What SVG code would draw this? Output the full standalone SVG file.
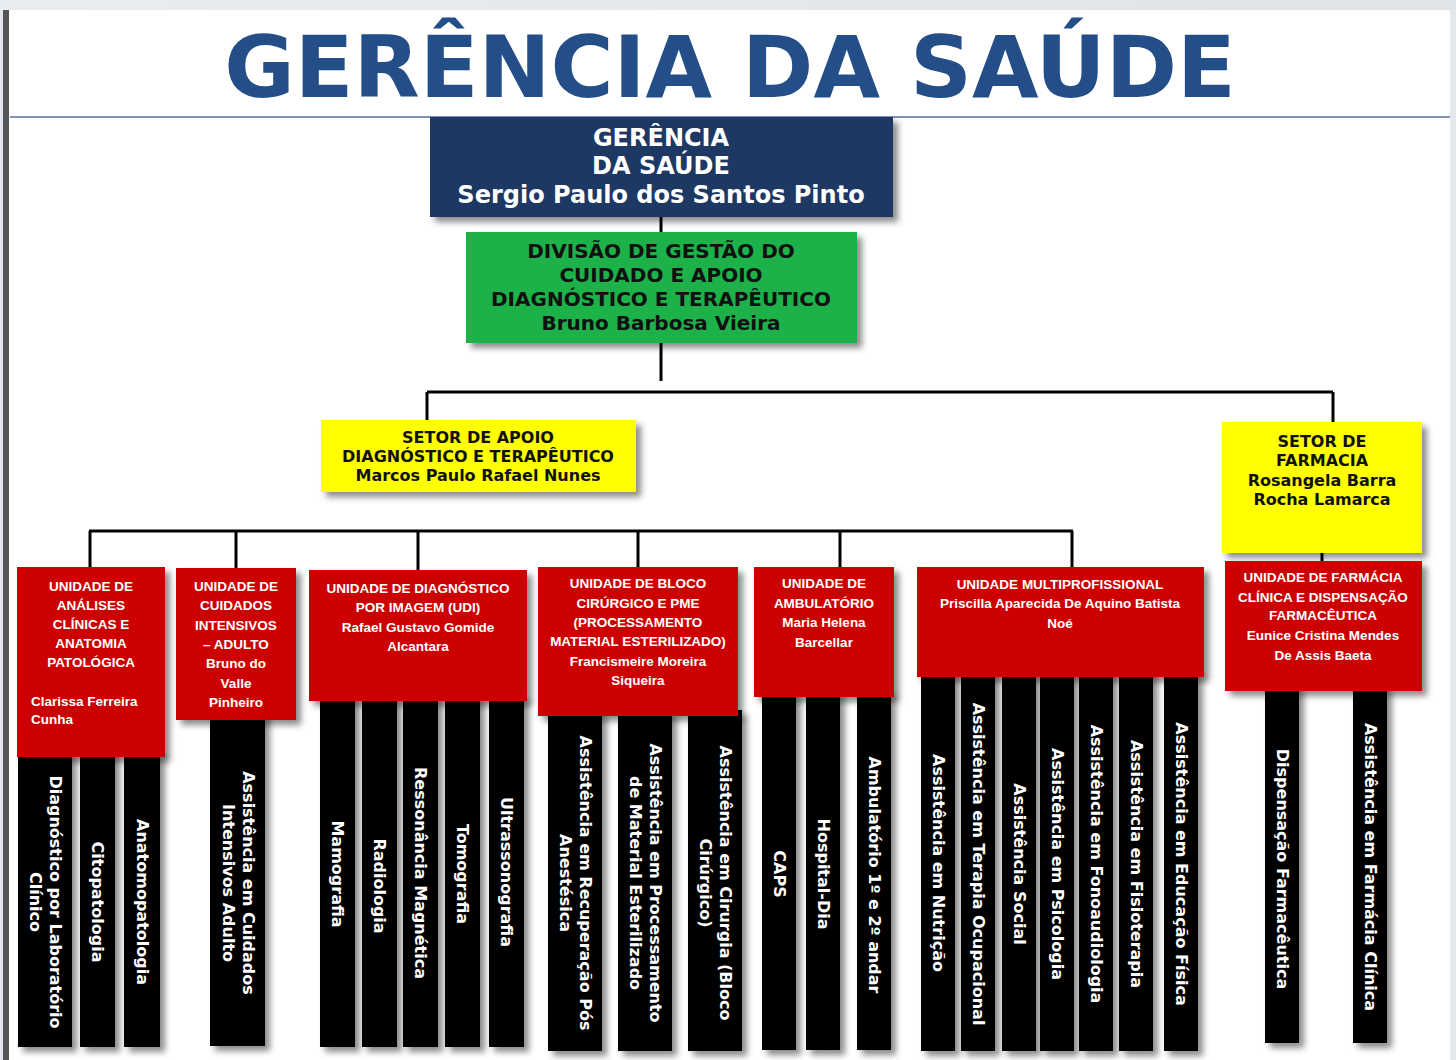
<svg xmlns="http://www.w3.org/2000/svg" width="1456" height="1060" viewBox="0 0 1456 1060">
<defs>
<filter id="sh" x="-20%" y="-20%" width="150%" height="150%">
<feDropShadow dx="5" dy="5" stdDeviation="3" flood-color="#000" flood-opacity="0.45"/>
</filter>
<linearGradient id="topg" x1="0" y1="0" x2="1" y2="0">
<stop offset="0" stop-color="#e9edf0"/><stop offset="1" stop-color="#dfe4e8"/>
</linearGradient>
</defs>
<style>
.dv{font-family:"DejaVu Sans","Liberation Sans",sans-serif;font-weight:bold;text-anchor:middle}
.ls{font-family:"Liberation Sans",Arial,sans-serif;font-weight:bold;text-anchor:middle;font-size:13.5px;fill:#fff}
.red{fill:#cc0000;filter:url(#sh)}
.bar{fill:#000;filter:url(#sh)}
.bt{font-family:"DejaVu Sans","Liberation Sans",sans-serif;font-weight:bold;text-anchor:middle;font-size:16px;fill:#fff}
.ln{stroke:#000;stroke-width:3;fill:none}
</style>
<rect x="0" y="0" width="1456" height="1060" fill="#fff"/>
<rect x="0" y="0" width="1456" height="10" fill="url(#topg)"/>
<rect x="0" y="10" width="3" height="1050" fill="#e4e8ec"/>
<rect x="3" y="10" width="6" height="1050" fill="#555"/>
<rect x="1450" y="10" width="6" height="1050" fill="#e4e8ec"/>
<line x1="10" y1="117" x2="1450" y2="117" stroke="#8194b6" stroke-width="2"/>
<text x="730" y="97" class="dv" font-size="86" fill="#234e88">GERÊNCIA DA SAÚDE</text>

<g id="connectors">
<path class="ln" d="M661 217V232M661 343V381M427 392H1333M427 392V422M1333 392V424"/>
<path class="ln" d="M89 531H1073M90 531V568M236 531V568M418 531V570M638 531V568M840 531V568M1072 531V568M1322 553V562"/>
</g>

<g id="gerencia">
<rect x="430" y="117" width="463" height="100" fill="#1f3864" filter="url(#sh)"/>
<text class="dv" font-size="24" fill="#fff"><tspan x="661" y="146">GERÊNCIA</tspan><tspan x="661" y="174">DA SAÚDE</tspan><tspan x="661" y="203">Sergio Paulo dos Santos Pinto</tspan></text>
</g>

<g id="divisao">
<rect x="466" y="232" width="391" height="111" fill="#1fb24a" filter="url(#sh)"/>
<text class="dv" font-size="20" fill="#111"><tspan x="661" y="258">DIVISÃO DE GESTÃO DO</tspan><tspan x="661" y="282">CUIDADO E APOIO</tspan><tspan x="661" y="306">DIAGNÓSTICO E TERAPÊUTICO</tspan><tspan x="661" y="330">Bruno Barbosa Vieira</tspan></text>
</g>

<g id="setor-apoio">
<rect x="321" y="420" width="315" height="72" fill="#ffff00" filter="url(#sh)"/>
<text class="dv" font-size="16" fill="#111"><tspan x="478" y="443">SETOR DE APOIO</tspan><tspan x="478" y="462">DIAGNÓSTICO E TERAPÊUTICO</tspan><tspan x="478" y="481">Marcos Paulo Rafael Nunes</tspan></text>
</g>

<g id="setor-farmacia">
<rect x="1222" y="422" width="200" height="131" fill="#ffff00" filter="url(#sh)"/>
<text class="dv" font-size="16" fill="#111"><tspan x="1322" y="447">SETOR DE</tspan><tspan x="1322" y="466">FARMACIA</tspan><tspan x="1322" y="486">Rosangela Barra</tspan><tspan x="1322" y="505">Rocha Lamarca</tspan></text>
</g>

<!-- bars -->
<g id="bar-diag-lab"><rect class="bar" x="18" y="750" width="54" height="297"/><text class="bt" transform="translate(45,902) rotate(90)"><tspan x="0" y="-5">Diagnóstico por Laboratório</tspan><tspan x="0" y="15">Clínico</tspan></text></g>
<g id="bar-citopatologia"><rect class="bar" x="80" y="750" width="35" height="297"/><text class="bt" transform="translate(97.5,902) rotate(90)"><tspan x="0" y="5.5">Citopatologia</tspan></text></g>
<g id="bar-anatomopatologia"><rect class="bar" x="124" y="750" width="36" height="297"/><text class="bt" transform="translate(142,902) rotate(90)"><tspan x="0" y="5.5">Anatomopatologia</tspan></text></g>

<g id="bar-uti"><rect class="bar" x="210" y="712" width="55" height="334"/><text class="bt" transform="translate(237.5,883) rotate(90)"><tspan x="0" y="-5">Assistência em Cuidados</tspan><tspan x="0" y="15">Intensivos Adulto</tspan></text></g>

<g id="bar-mamografia"><rect class="bar" x="320" y="695" width="35" height="352"/><text class="bt" transform="translate(337.5,874) rotate(90)"><tspan x="0" y="5.5">Mamografia</tspan></text></g>
<g id="bar-radiologia"><rect class="bar" x="362" y="695" width="35" height="352"/><text class="bt" transform="translate(379.5,886) rotate(90)"><tspan x="0" y="5.5">Radiologia</tspan></text></g>
<g id="bar-ressonancia"><rect class="bar" x="403" y="695" width="35" height="352"/><text class="bt" transform="translate(420.5,873) rotate(90)"><tspan x="0" y="5.5">Ressonância Magnética</tspan></text></g>
<g id="bar-tomografia"><rect class="bar" x="445" y="695" width="35" height="352"/><text class="bt" transform="translate(462.5,874) rotate(90)"><tspan x="0" y="5.5">Tomografia</tspan></text></g>
<g id="bar-ultrassonografia"><rect class="bar" x="489" y="695" width="35" height="352"/><text class="bt" transform="translate(506.5,872) rotate(90)"><tspan x="0" y="5.5">Ultrassonografia</tspan></text></g>

<g id="bar-rpa"><rect class="bar" x="548" y="710" width="54" height="341"/><text class="bt" transform="translate(575,883) rotate(90)"><tspan x="0" y="-5">Assistência em Recuperação Pós</tspan><tspan x="0" y="15">Anestésica</tspan></text></g>
<g id="bar-cme"><rect class="bar" x="618" y="710" width="54" height="341"/><text class="bt" transform="translate(645,883) rotate(90)"><tspan x="0" y="-5">Assistência em Processamento</tspan><tspan x="0" y="15">de Material Esterilizado</tspan></text></g>
<g id="bar-cirurgia"><rect class="bar" x="688" y="710" width="54" height="341"/><text class="bt" transform="translate(715,883) rotate(90)"><tspan x="0" y="-5">Assistência em Cirurgia (Bloco</tspan><tspan x="0" y="15">Cirúrgico)</tspan></text></g>

<g id="bar-caps"><rect class="bar" x="762" y="690" width="34" height="360"/><text class="bt" transform="translate(779,874) rotate(90)"><tspan x="0" y="5.5">CAPS</tspan></text></g>
<g id="bar-hospital-dia"><rect class="bar" x="806" y="690" width="34" height="360"/><text class="bt" transform="translate(823,874) rotate(90)"><tspan x="0" y="5.5">Hospital-Dia</tspan></text></g>
<g id="bar-ambulatorio"><rect class="bar" x="857" y="690" width="34" height="360"/><text class="bt" transform="translate(874,875) rotate(90)"><tspan x="0" y="5.5">Ambulatório 1º e 2º andar</tspan></text></g>

<g id="bar-nutricao"><rect class="bar" x="921" y="670" width="34" height="381"/><text class="bt" transform="translate(938,863) rotate(90)"><tspan x="0" y="5.5">Assistência em Nutrição</tspan></text></g>
<g id="bar-to"><rect class="bar" x="961" y="670" width="34" height="381"/><text class="bt" transform="translate(978,864) rotate(90)"><tspan x="0" y="5.5">Assistência em Terapia Ocupacional</tspan></text></g>
<g id="bar-social"><rect class="bar" x="1002" y="670" width="34" height="381"/><text class="bt" transform="translate(1019,864) rotate(90)"><tspan x="0" y="5.5">Assistência Social</tspan></text></g>
<g id="bar-psicologia"><rect class="bar" x="1040" y="670" width="34" height="381"/><text class="bt" transform="translate(1057,864) rotate(90)"><tspan x="0" y="5.5">Assistência em Psicologia</tspan></text></g>
<g id="bar-fono"><rect class="bar" x="1079" y="670" width="34" height="381"/><text class="bt" transform="translate(1096,864) rotate(90)"><tspan x="0" y="5.5">Assistência em Fonoaudiologia</tspan></text></g>
<g id="bar-fisio"><rect class="bar" x="1119" y="670" width="34" height="381"/><text class="bt" transform="translate(1136,864) rotate(90)"><tspan x="0" y="5.5">Assistência em Fisioterapia</tspan></text></g>
<g id="bar-edfisica"><rect class="bar" x="1164" y="670" width="34" height="381"/><text class="bt" transform="translate(1181,864) rotate(90)"><tspan x="0" y="5.5">Assistência em Educação Física</tspan></text></g>

<g id="bar-dispensacao"><rect class="bar" x="1265" y="685" width="34" height="358"/><text class="bt" transform="translate(1282,869) rotate(90)"><tspan x="0" y="5.5">Dispensação Farmacêutica</tspan></text></g>
<g id="bar-farm-clinica"><rect class="bar" x="1353" y="685" width="34" height="358"/><text class="bt" transform="translate(1370,867) rotate(90)"><tspan x="0" y="5.5">Assistência em Farmácia Clínica</tspan></text></g>

<!-- red unit boxes -->
<g id="un-analises">
<rect class="red" x="17" y="567" width="148" height="190"/>
<text class="ls"><tspan x="91" y="591">UNIDADE DE</tspan><tspan x="91" y="610">ANÁLISES</tspan><tspan x="91" y="629">CLÍNICAS  E</tspan><tspan x="91" y="648">ANATOMIA</tspan><tspan x="91" y="667">PATOLÓGICA</tspan></text>
<text class="ls" text-anchor="start" style="text-anchor:start"><tspan x="31" y="706">Clarissa Ferreira</tspan><tspan x="31" y="724">Cunha</tspan></text>
</g>
<g id="un-uti">
<rect class="red" x="176" y="568" width="120" height="152"/>
<text class="ls"><tspan x="236" y="591">UNIDADE DE</tspan><tspan x="236" y="610">CUIDADOS</tspan><tspan x="236" y="630">INTENSIVOS</tspan><tspan x="236" y="649">– ADULTO</tspan><tspan x="236" y="668">Bruno do</tspan><tspan x="236" y="688">Valle</tspan><tspan x="236" y="707">Pinheiro</tspan></text>
</g>
<g id="un-udi">
<rect class="red" x="309" y="570" width="218" height="131"/>
<text class="ls"><tspan x="418" y="593">UNIDADE DE DIAGNÓSTICO</tspan><tspan x="418" y="612">POR IMAGEM (UDI)</tspan><tspan x="418" y="632">Rafael Gustavo Gomide</tspan><tspan x="418" y="651">Alcantara</tspan></text>
</g>
<g id="un-bloco">
<rect class="red" x="538" y="567" width="200" height="149"/>
<text class="ls"><tspan x="638" y="588">UNIDADE DE BLOCO</tspan><tspan x="638" y="607.5">CIRÚRGICO E PME</tspan><tspan x="638" y="627">(PROCESSAMENTO</tspan><tspan x="638" y="646">MATERIAL ESTERILIZADO)</tspan><tspan x="638" y="666">Francismeire Moreira</tspan><tspan x="638" y="685">Siqueira</tspan></text>
</g>
<g id="un-ambulatorio">
<rect class="red" x="754" y="567" width="140" height="130"/>
<text class="ls"><tspan x="824" y="588">UNIDADE DE</tspan><tspan x="824" y="608">AMBULATÓRIO</tspan><tspan x="824" y="627">Maria Helena</tspan><tspan x="824" y="647">Barcellar</tspan></text>
</g>
<g id="un-multi">
<rect class="red" x="917" y="567" width="287" height="110"/>
<text class="ls"><tspan x="1060" y="589">UNIDADE MULTIPROFISSIONAL</tspan><tspan x="1060" y="608">Priscilla Aparecida De Aquino Batista</tspan><tspan x="1060" y="628">Noé</tspan></text>
</g>
<g id="un-farmacia">
<rect class="red" x="1225" y="561" width="197" height="130"/>
<text class="ls"><tspan x="1323" y="582">UNIDADE DE FARMÁCIA</tspan><tspan x="1323" y="602">CLÍNICA E DISPENSAÇÃO</tspan><tspan x="1323" y="620">FARMACÊUTICA</tspan><tspan x="1323" y="640">Eunice Cristina Mendes</tspan><tspan x="1323" y="660">De Assis Baeta</tspan></text>
</g>
</svg>
